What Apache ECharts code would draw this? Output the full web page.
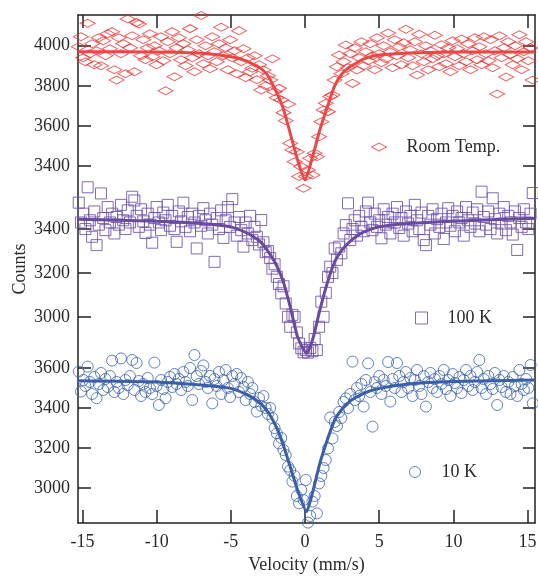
<!DOCTYPE html>
<html>
<head>
<meta charset="utf-8">
<script src="https://cdn.jsdelivr.net/npm/echarts@6/dist/echarts.min.js"></script>
<style>html,body{margin:0;padding:0;background:#fff}#main{width:538px;height:576px}</style>
</head>
<body>
<div id="main"></div>
<script>
// Velocity channels (mm/s)
const velocity = [
-15.25,-15.10,-14.95,-14.80,-14.65,-14.50,-14.35,-14.20,-14.05,-13.90,
-13.75,-13.60,-13.45,-13.30,-13.15,-13.00,-12.85,-12.70,-12.55,-12.40,
-12.25,-12.10,-11.95,-11.80,-11.65,-11.50,-11.35,-11.20,-11.05,-10.90,
-10.75,-10.60,-10.45,-10.30,-10.15,-10.00,-9.85,-9.70,-9.55,-9.40,
-9.25,-9.10,-8.95,-8.80,-8.65,-8.50,-8.35,-8.20,-8.05,-7.90,
-7.75,-7.60,-7.45,-7.30,-7.15,-7.00,-6.85,-6.70,-6.55,-6.40,
-6.25,-6.10,-5.95,-5.80,-5.65,-5.50,-5.35,-5.20,-5.05,-4.90,
-4.75,-4.60,-4.45,-4.30,-4.15,-4.00,-3.85,-3.70,-3.55,-3.40,
-3.25,-3.10,-2.95,-2.80,-2.65,-2.50,-2.35,-2.20,-2.05,-1.90,
-1.75,-1.60,-1.45,-1.30,-1.15,-1.00,-0.85,-0.70,-0.55,-0.40,
-0.25,-0.10,0.05,0.20,0.35,0.50,0.65,0.80,0.95,1.10,
1.25,1.40,1.55,1.70,1.85,2.00,2.15,2.30,2.45,2.60,
2.75,2.90,3.05,3.20,3.35,3.50,3.65,3.80,3.95,4.10,
4.25,4.40,4.55,4.70,4.85,5.00,5.15,5.30,5.45,5.60,
5.75,5.90,6.05,6.20,6.35,6.50,6.65,6.80,6.95,7.10,
7.25,7.40,7.55,7.70,7.85,8.00,8.15,8.30,8.45,8.60,
8.75,8.90,9.05,9.20,9.35,9.50,9.65,9.80,9.95,10.10,
10.25,10.40,10.55,10.70,10.85,11.00,11.15,11.30,11.45,11.60,
11.75,11.90,12.05,12.20,12.35,12.50,12.65,12.80,12.95,13.10,
13.25,13.40,13.55,13.70,13.85,14.00,14.15,14.30,14.45,14.60,
14.75,14.90,15.05,15.20,15.35
];

// Room temperature counts
const countsRoom = [
3995,4045,3940,3920,4112,3960,4010,3905,3975,4040,
3900,4025,3950,4060,3985,4070,3880,3829,4040,3960,
4010,3860,4133,3990,4050,3870,4115,4108,3950,4030,
3930,3990,4060,3945,4000,3905,3975,4045,3925,3775,
4020,3960,4070,3845,3990,4040,3930,4010,3900,3980,
4085,3940,3870,4030,3960,4150,3910,4000,3950,3885,
4045,3970,3920,4010,4092,3950,3990,3880,4030,3940,
3975,3860,4075,3920,3985,3840,3940,3870,3887,3950,
3830,3905,3779,3879,3800,3850,3829,3935,3770,3740,
3787,3729,3666,3626,3709,3513,3480,3421,3471,3347,
3396,3289,3347,3380,3438,3355,3463,3446,3546,3621,
3679,3713,3671,3746,3754,3829,3895,3954,3860,3920,
4003,3890,3960,3812,3990,3879,3940,4020,3900,3970,
3925,4010,3950,3880,4040,3960,3915,4000,3935,4063,
3970,3890,4030,3950,3995,3905,4015,4082,3940,3980,
3900,4020,3854,4057,3960,3920,4000,3880,3975,3935,
4052,3950,3895,4005,3960,3910,3990,3870,4025,3945,
3985,3900,4033,3960,3920,4010,3880,3975,4040,3930,
3995,3905,4045,3960,3925,4030,3890,3975,3759,4050,
3940,3990,3844,4020,3955,3905,4000,3935,4055,3880,
3970,4020,3925,3990,3829
];

// 100 K counts
const counts100K = [
3520,3430,3470,3400,3590,3440,3365,3480,3327,3420,
3562,3450,3395,3500,3430,3470,3380,3455,3420,3510,
3440,3400,3485,3430,3547,3530,3460,3410,3490,3435,
3382,3470,3420,3338,3450,3500,3430,3395,3475,3440,
3510,3415,3460,3400,3342,3480,3435,3520,3410,3455,
3390,3470,3430,3312,3460,3415,3495,3440,3380,3470,
3420,3251,3450,3400,3485,3360,3440,3500,3410,3536,
3430,3370,3455,3395,3320,3430,3380,3460,3350,3410,
3365,3330,3441,3340,3295,3300,3268,3220,3240,3183,
3150,3108,3140,3062,3001,2956,3010,3001,2930,2880,
2858,2840,2850,2838,2860,2845,2900,2850,2956,3070,
3001,3110,3183,3229,3200,3312,3260,3320,3290,3380,
3418,3517,3350,3400,3440,3370,3460,3410,3390,3480,
3520,3430,3395,3470,3410,3440,3358,3490,3420,3455,
3380,3470,3430,3500,3405,3450,3370,3480,3425,3460,
3390,3510,3440,3400,3475,3350,3327,3460,3420,3490,
3380,3445,3410,3470,3355,3430,3495,3415,3460,3390,
3480,3430,3450,3370,3500,3440,3410,3475,3425,3490,
3390,3570,3455,3420,3480,3400,3540,3445,3380,3470,
3425,3500,3395,3460,3430,3375,3480,3305,3450,3410,
3490,3430,3400,3470,3564
];

// 10 K counts
const counts10K = [
3582,3482,3540,3510,3607,3530,3470,3555,3449,3520,
3575,3490,3545,3505,3560,3637,3480,3530,3500,3648,
3470,3540,3515,3560,3640,3490,3625,3535,3460,3520,
3480,3550,3500,3470,3627,3510,3415,3540,3495,3449,
3530,3555,3505,3570,3520,3545,3490,3580,3530,3510,
3600,3440,3665,3560,3520,3585,3613,3530,3500,3560,
3423,3545,3510,3580,3470,3540,3590,3500,3455,3560,
3520,3570,3480,3550,3505,3440,3530,3470,3500,3430,
3382,3450,3410,3460,3400,3370,3400,3350,3300,3273,
3223,3250,3190,3165,3107,3090,3032,3060,2960,2923,
2990,2940,3040,2827,2860,2932,2960,2873,3023,3060,
3100,3140,3198,3353,3248,3330,3310,3380,3350,3430,
3448,3400,3470,3632,3440,3500,3460,3520,3407,3540,
3623,3480,3307,3530,3500,3560,3470,3540,3510,3630,
3432,3545,3500,3625,3560,3480,3530,3580,3500,3550,
3460,3540,3590,3510,3470,3560,3407,3530,3575,3500,
3545,3480,3560,3520,3590,3495,3540,3460,3570,3525,
3500,3555,3475,3540,3590,3510,3560,3490,3530,3580,
3640,3500,3545,3470,3560,3520,3495,3575,3415,3540,
3505,3560,3480,3530,3470,3555,3510,3460,3590,3520,
3490,3545,3500,3615,3423
];

// Fitted curves: [velocity, counts]
const fitRoom = [[-15.3,3970],[-10,3968],[-7,3962],[-5,3945],[-4,3925],[-3.5,3908],[-3,3888],[-2.5,3850],[-2,3780],[-1.5,3694],[-1,3564],[-0.5,3430],[0,3330],[0.5,3445],[1,3580],[1.5,3694],[2,3800],[2.5,3860],[3,3894],[3.5,3915],[4,3935],[5,3953],[7,3963],[10,3968],[15.5,3969]];
const fit100K = [[-15.3,3445],[-10,3436],[-7,3425],[-5,3410],[-4,3385],[-3.5,3366],[-3,3342],[-2.5,3300],[-2,3245],[-1.5,3168],[-1,3047],[-0.5,2910],[0.1,2836],[0.5,2895],[1,3032],[1.5,3155],[2,3251],[2.5,3305],[3,3342],[3.5,3368],[4,3388],[5,3410],[7,3425],[10,3436],[15.5,3449]];
const fit10K = [[-15.3,3536],[-10,3530],[-7,3515],[-5,3498],[-4,3470],[-3.5,3450],[-3,3423],[-2.5,3380],[-2,3315],[-1.5,3223],[-1,3107],[-0.5,2990],[0.1,2882],[0.5,2975],[1,3123],[1.5,3240],[2,3340],[2.5,3395],[3,3432],[3.5,3455],[4,3475],[5,3498],[7,3520],[10,3532],[15.5,3540]];

// Tick labels
const xTicks = [-15,-10,-5,0,5,10,15];
const yTicksRoom = [3400,3600,3800,4000];
const yTicks100K = [3000,3200,3400];
const yTicks10K = [3000,3200,3400,3600];

const seriesNames = ['Room Temp.', '100 K', '10 K'];

const FONT = 'Liberation Serif';
const AX = '#222';
const LBL = '#2a2a2a';

function pair(v, c){ return v.map((x,i)=>[x,c[i]]); }

const panels = [
  {min:1619, max:4153, ticks:yTicksRoom},
  {min:2064, max:4373, ticks:yTicks100K},
  {min:2825, max:5365, ticks:yTicks10K}
];

const yAxes = [];
panels.forEach((p, k) => {
  yAxes.push({
    type:'value', position:'left', min:p.min, max:p.max,
    axisLine:{show:k===0, onZero:false, lineStyle:{color:AX, width:1.5}},
    axisTick:{show:true, inside:true, length:13, customValues:p.ticks, lineStyle:{color:AX, width:1.5}},
    axisLabel:{show:true, customValues:p.ticks, formatter:v=>String(v), fontFamily:FONT, fontSize:18, color:LBL, margin:8},
    splitLine:{show:false},
    name: k===0 ? 'Counts' : '',
    nameLocation:'middle', nameGap:49, nameMoveOverlap:false,
    nameTextStyle:{fontFamily:FONT, fontSize:18, color:LBL}
  });
});
panels.forEach((p, k) => {
  yAxes.push({
    type:'value', position:'right', min:p.min, max:p.max,
    axisLine:{show:k===0, onZero:false, lineStyle:{color:AX, width:1.5}},
    axisTick:{show:true, inside:true, length:12, customValues:p.ticks, lineStyle:{color:AX, width:1.5}},
    axisLabel:{show:false},
    splitLine:{show:false}
  });
});

const xBase = {
  type:'value', min:-15.3, max:15.5,
  axisLine:{show:true, onZero:false, lineStyle:{color:AX, width:1.5}},
  axisTick:{show:true, inside:true, length:13, customValues:xTicks, lineStyle:{color:AX, width:1.5}},
  splitLine:{show:false}
};

const colors = {
  room:'#f02828', roomLine:'#ee4646',
  k100:'#6e50aa', k100Line:'#6a4a9e',
  k10:'#3b63b2', k10Line:'#3a5ea8'
};

const option = {
  animation:false,
  backgroundColor:'#fff',
  grid:{left:78, right:3, top:15, bottom:53, containLabel:false, outerBoundsMode:'none'},
  xAxis:[
    Object.assign({}, xBase, {
      position:'bottom',
      axisLabel:{customValues:xTicks, fontFamily:FONT, fontSize:18, color:LBL, margin:10},
      name:'Velocity (mm/s)', nameLocation:'middle', nameGap:33,
      nameTextStyle:{fontFamily:FONT, fontSize:18, color:LBL}
    }),
    Object.assign({}, xBase, {position:'top', axisLabel:{show:false}})
  ],
  yAxis:yAxes,
  legend:[
    {data:[seriesNames[0]], left:371, top:137, padding:0, itemWidth:15, itemHeight:8,
     itemStyle:{borderWidth:1}, textStyle:{fontFamily:FONT, fontSize:18, color:LBL, lineHeight:20, padding:[0,0,0,15]}, selectedMode:false},
    {data:[seriesNames[1]], left:415, top:308, padding:0, itemWidth:12, itemHeight:12,
     itemStyle:{borderWidth:1}, textStyle:{fontFamily:FONT, fontSize:18, color:LBL, lineHeight:20, padding:[0,0,0,15]}, selectedMode:false},
    {data:[seriesNames[2]], left:409, top:462, padding:0, itemWidth:11, itemHeight:11,
     itemStyle:{borderWidth:1}, textStyle:{fontFamily:FONT, fontSize:18, color:LBL, lineHeight:20, padding:[0,0,0,16]}, selectedMode:false}
  ],
  series:[
    {name:seriesNames[0], type:'scatter', xAxisIndex:0, yAxisIndex:0, symbol:'diamond', symbolSize:[15,8],
     itemStyle:{color:'rgba(0,0,0,0)', borderColor:colors.room, borderWidth:1}, data:pair(velocity, countsRoom), clip:false, z:2},
    {name:seriesNames[1], type:'scatter', xAxisIndex:0, yAxisIndex:1, symbol:'rect', symbolSize:11,
     itemStyle:{color:'rgba(0,0,0,0)', borderColor:colors.k100, borderWidth:1, opacity:0.85}, data:pair(velocity, counts100K), clip:false, z:2},
    {name:seriesNames[2], type:'scatter', xAxisIndex:0, yAxisIndex:2, symbol:'circle', symbolSize:11,
     itemStyle:{color:'rgba(0,0,0,0)', borderColor:colors.k10, borderWidth:1}, data:pair(velocity, counts10K), clip:false, z:2},
    {name:'fitRoom', type:'line', xAxisIndex:0, yAxisIndex:0, data:fitRoom, showSymbol:false, symbol:'none', smooth:0.2,
     lineStyle:{color:colors.roomLine, width:3}, z:3},
    {name:'fit100K', type:'line', xAxisIndex:0, yAxisIndex:1, data:fit100K, showSymbol:false, symbol:'none', smooth:0.2,
     lineStyle:{color:colors.k100Line, width:3}, z:3},
    {name:'fit10K', type:'line', xAxisIndex:0, yAxisIndex:2, data:fit10K, showSymbol:false, symbol:'none', smooth:0.2,
     lineStyle:{color:colors.k10Line, width:3}, z:3}
  ]
};

const chart = echarts.init(document.getElementById('main'));
chart.setOption(option);
</script>
</body>
</html>
